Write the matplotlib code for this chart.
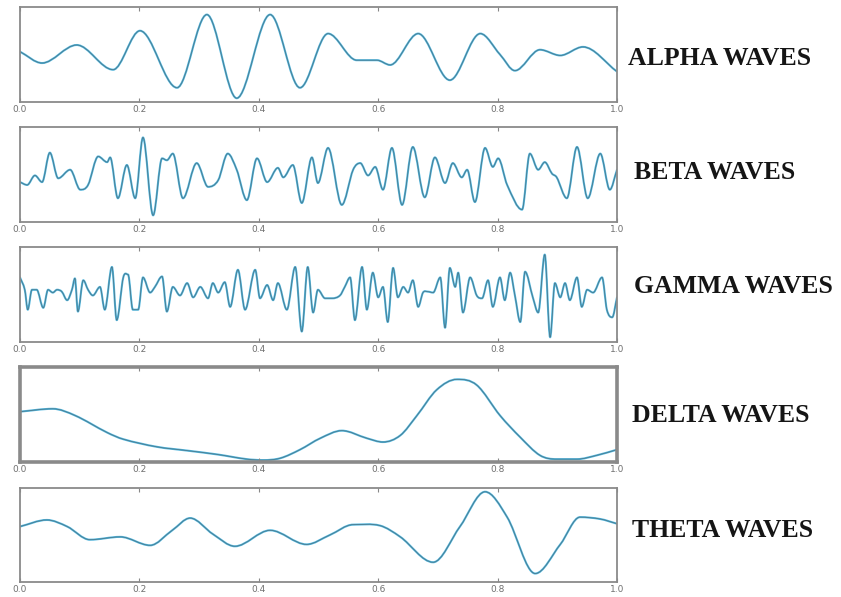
import matplotlib
matplotlib.use('Agg')
import matplotlib.pyplot as plt
from matplotlib.path import Path
from matplotlib.patches import PathPatch

###############################################################################
# waveform samples (time [s], relative amplitude)

alpha_t = [0.0, 0.037, 0.095, 0.156, 0.201, 0.263, 0.313, 0.363, 0.419, 0.469,
           0.516, 0.564, 0.598, 0.620, 0.667, 0.720, 0.771, 0.804, 0.829,
           0.871, 0.905, 0.943, 1.0]
alpha_amp = [0.53, 0.41, 0.60, 0.34, 0.75, 0.15, 0.92, 0.04, 0.92, 0.15,
             0.72, 0.44, 0.44, 0.39, 0.72, 0.23, 0.72, 0.50, 0.33,
             0.55, 0.49, 0.58, 0.32]

beta_t = [0.0, 0.012, 0.025, 0.037, 0.050, 0.064, 0.084, 0.101, 0.114, 0.131,
          0.146, 0.151, 0.164, 0.179, 0.193, 0.206, 0.223, 0.238, 0.246,
          0.256, 0.273, 0.296, 0.315, 0.332, 0.348, 0.363, 0.380, 0.397,
          0.414, 0.432, 0.441, 0.457, 0.472, 0.489, 0.499, 0.516, 0.539,
          0.558, 0.570, 0.583, 0.595, 0.608, 0.623, 0.640, 0.658, 0.678,
          0.695, 0.712, 0.725, 0.740, 0.749, 0.762, 0.779, 0.792, 0.801,
          0.816, 0.841, 0.854, 0.868, 0.879, 0.891, 0.899, 0.916, 0.933,
          0.951, 0.972, 0.988, 1.0]
beta_amp = [0.42, 0.39, 0.49, 0.42, 0.73, 0.46, 0.55, 0.34, 0.39, 0.69,
            0.63, 0.68, 0.25, 0.60, 0.25, 0.89, 0.07, 0.67, 0.65,
            0.72, 0.25, 0.62, 0.37, 0.44, 0.72, 0.55, 0.23, 0.67,
            0.42, 0.57, 0.47, 0.60, 0.20, 0.68, 0.41, 0.78, 0.18,
            0.55, 0.62, 0.49, 0.58, 0.34, 0.78, 0.18, 0.79, 0.26,
            0.68, 0.41, 0.62, 0.47, 0.55, 0.21, 0.78, 0.58, 0.67,
            0.39, 0.13, 0.72, 0.55, 0.63, 0.51, 0.47, 0.25, 0.79,
            0.25, 0.72, 0.34, 0.55]

gamma_t = [0.0, 0.008, 0.013, 0.020, 0.028, 0.039, 0.047, 0.055, 0.062,
           0.070, 0.079, 0.087, 0.092, 0.097, 0.106, 0.114, 0.122, 0.134,
           0.142, 0.154, 0.162, 0.173, 0.181, 0.189, 0.198, 0.206, 0.218,
           0.226, 0.238, 0.246, 0.256, 0.268, 0.280, 0.290, 0.302, 0.315,
           0.323, 0.332, 0.343, 0.352, 0.365, 0.377, 0.394, 0.402, 0.414,
           0.424, 0.432, 0.447, 0.461, 0.472, 0.482, 0.491, 0.499, 0.511,
           0.523, 0.536, 0.544, 0.553, 0.561, 0.573, 0.581, 0.591, 0.600,
           0.608, 0.616, 0.625, 0.633, 0.642, 0.650, 0.658, 0.667, 0.675,
           0.683, 0.692, 0.704, 0.712, 0.720, 0.729, 0.734, 0.742, 0.754,
           0.765, 0.774, 0.784, 0.792, 0.804, 0.812, 0.821, 0.829, 0.838,
           0.846, 0.859, 0.868, 0.879, 0.888, 0.896, 0.905, 0.913, 0.921,
           0.933, 0.941, 0.950, 0.960, 0.975, 0.983, 0.992, 1.0]
gamma_amp = [0.68, 0.55, 0.34, 0.55, 0.55, 0.36, 0.55, 0.52, 0.55,
             0.53, 0.44, 0.55, 0.67, 0.32, 0.65, 0.55, 0.49, 0.58,
             0.34, 0.79, 0.23, 0.68, 0.71, 0.34, 0.34, 0.68, 0.52,
             0.58, 0.69, 0.32, 0.58, 0.49, 0.62, 0.47, 0.58, 0.46,
             0.62, 0.52, 0.63, 0.37, 0.76, 0.34, 0.76, 0.46, 0.60,
             0.44, 0.62, 0.34, 0.79, 0.11, 0.79, 0.31, 0.55, 0.46,
             0.46, 0.49, 0.58, 0.68, 0.23, 0.79, 0.34, 0.73, 0.47,
             0.58, 0.21, 0.78, 0.47, 0.58, 0.52, 0.65, 0.37, 0.52,
             0.53, 0.52, 0.68, 0.15, 0.78, 0.58, 0.73, 0.31, 0.68,
             0.49, 0.46, 0.65, 0.37, 0.68, 0.44, 0.73, 0.49, 0.21,
             0.74, 0.47, 0.31, 0.92, 0.05, 0.62, 0.47, 0.62, 0.44,
             0.68, 0.37, 0.55, 0.52, 0.68, 0.34, 0.26, 0.47]

delta_t = [0.0, 0.055, 0.092, 0.146, 0.173, 0.229, 0.280, 0.330, 0.380,
           0.407, 0.436, 0.469, 0.503, 0.539, 0.581, 0.608, 0.637, 0.665,
           0.698, 0.732, 0.765, 0.804, 0.838, 0.871, 0.899, 0.933, 0.966, 1.0]
delta_amp = [0.53, 0.56, 0.49, 0.31, 0.24, 0.16, 0.12, 0.08, 0.03,
             0.02, 0.04, 0.13, 0.25, 0.33, 0.25, 0.21, 0.28, 0.49,
             0.76, 0.87, 0.81, 0.49, 0.26, 0.07, 0.03, 0.03, 0.07, 0.13]

theta_t = [0.0, 0.045, 0.079, 0.117, 0.168, 0.218, 0.255, 0.285, 0.323,
           0.360, 0.419, 0.480, 0.519, 0.558, 0.603, 0.637, 0.692, 0.737,
           0.779, 0.816, 0.863, 0.905, 0.938, 0.972, 1.0]
theta_amp = [0.59, 0.66, 0.59, 0.45, 0.48, 0.39, 0.55, 0.68, 0.51,
             0.38, 0.55, 0.40, 0.50, 0.61, 0.60, 0.48, 0.21, 0.59,
             0.96, 0.69, 0.09, 0.40, 0.69, 0.67, 0.62]

labels = ['ALPHA WAVES', 'BETA WAVES', 'GAMMA WAVES', 'DELTA WAVES',
          'THETA WAVES']
tick_values = [0.0, 0.2, 0.4, 0.6, 0.8, 1.0]
tick_labels = ['0.0', '0.2', '0.4', '0.6', '0.8', '1.0']

###############################################################################
# functions

def smooth_path(xs, ys):
    ''' cubic bezier path through the read samples (flat at extrema) '''
    n = len(xs)
    slopes = []
    for i in range(n):
        if i == 0:
            m = (ys[1] - ys[0]) / (xs[1] - xs[0])
        elif i == n - 1:
            m = (ys[-1] - ys[-2]) / (xs[-1] - xs[-2])
        elif (ys[i] - ys[i-1]) * (ys[i+1] - ys[i]) <= 0:
            m = 0.0
        else:
            m = (ys[i+1] - ys[i-1]) / (xs[i+1] - xs[i-1])
        slopes.append(m)
    verts = [(xs[0], ys[0])]
    codes = [Path.MOVETO]
    for i in range(n - 1):
        h = xs[i+1] - xs[i]
        verts += [(xs[i] + h/3, ys[i] + slopes[i]*h/3),
                  (xs[i+1] - h/3, ys[i+1] - slopes[i+1]*h/3),
                  (xs[i+1], ys[i+1])]
        codes += [Path.CURVE4] * 3
    return Path(verts, codes)

###############################################################################
# figure

W, H = 841, 597
fig = plt.figure(figsize=(W/100, H/100), dpi=100)

series = [(alpha_t, alpha_amp), (beta_t, beta_amp), (gamma_t, gamma_amp),
          (delta_t, delta_amp), (theta_t, theta_amp)]
# panel bottoms in pixels, label baselines in pixels
bottoms = [102, 222, 342, 462, 582]
heights = [95, 95, 95, 95, 94]
label_x = [628, 634, 634, 632, 632]
label_y = [65, 179, 293, 422, 537]
spine_w = [1.3, 1.3, 1.3, 2.6, 1.3]

for i, (t, amp) in enumerate(series):
    ax = fig.add_axes([20/W, 1 - bottoms[i]/H, 597/W, heights[i]/H])
    path = smooth_path(t, amp)
    ax.add_patch(PathPatch(path, facecolor='none', edgecolor='#52b8e0',
                           lw=1.5, capstyle='round', joinstyle='round'))
    ax.add_patch(PathPatch(path, facecolor='none', edgecolor='#4a6470',
                           lw=0.6, alpha=0.75))
    ax.set_xlim(0, 1)
    ax.set_ylim(0, 1)
    ax.set_yticks([])
    ax.set_xticks(tick_values)
    ax.set_xticklabels(tick_labels)
    ax.tick_params(axis='x', direction='in', length=3, width=0.8,
                   colors='#888888', labelcolor='#707070', labelsize=6.5,
                   pad=2, top=True)
    for sp in ax.spines.values():
        sp.set_color('#8a8a8a')
        sp.set_linewidth(spine_w[i])

    fig.text(label_x[i]/W, 1 - label_y[i]/H, labels[i],
             family='Liberation Serif', weight='bold', fontsize=18.5,
             color='#151515', va='baseline', ha='left')

plt.savefig('out.png', dpi=100)
